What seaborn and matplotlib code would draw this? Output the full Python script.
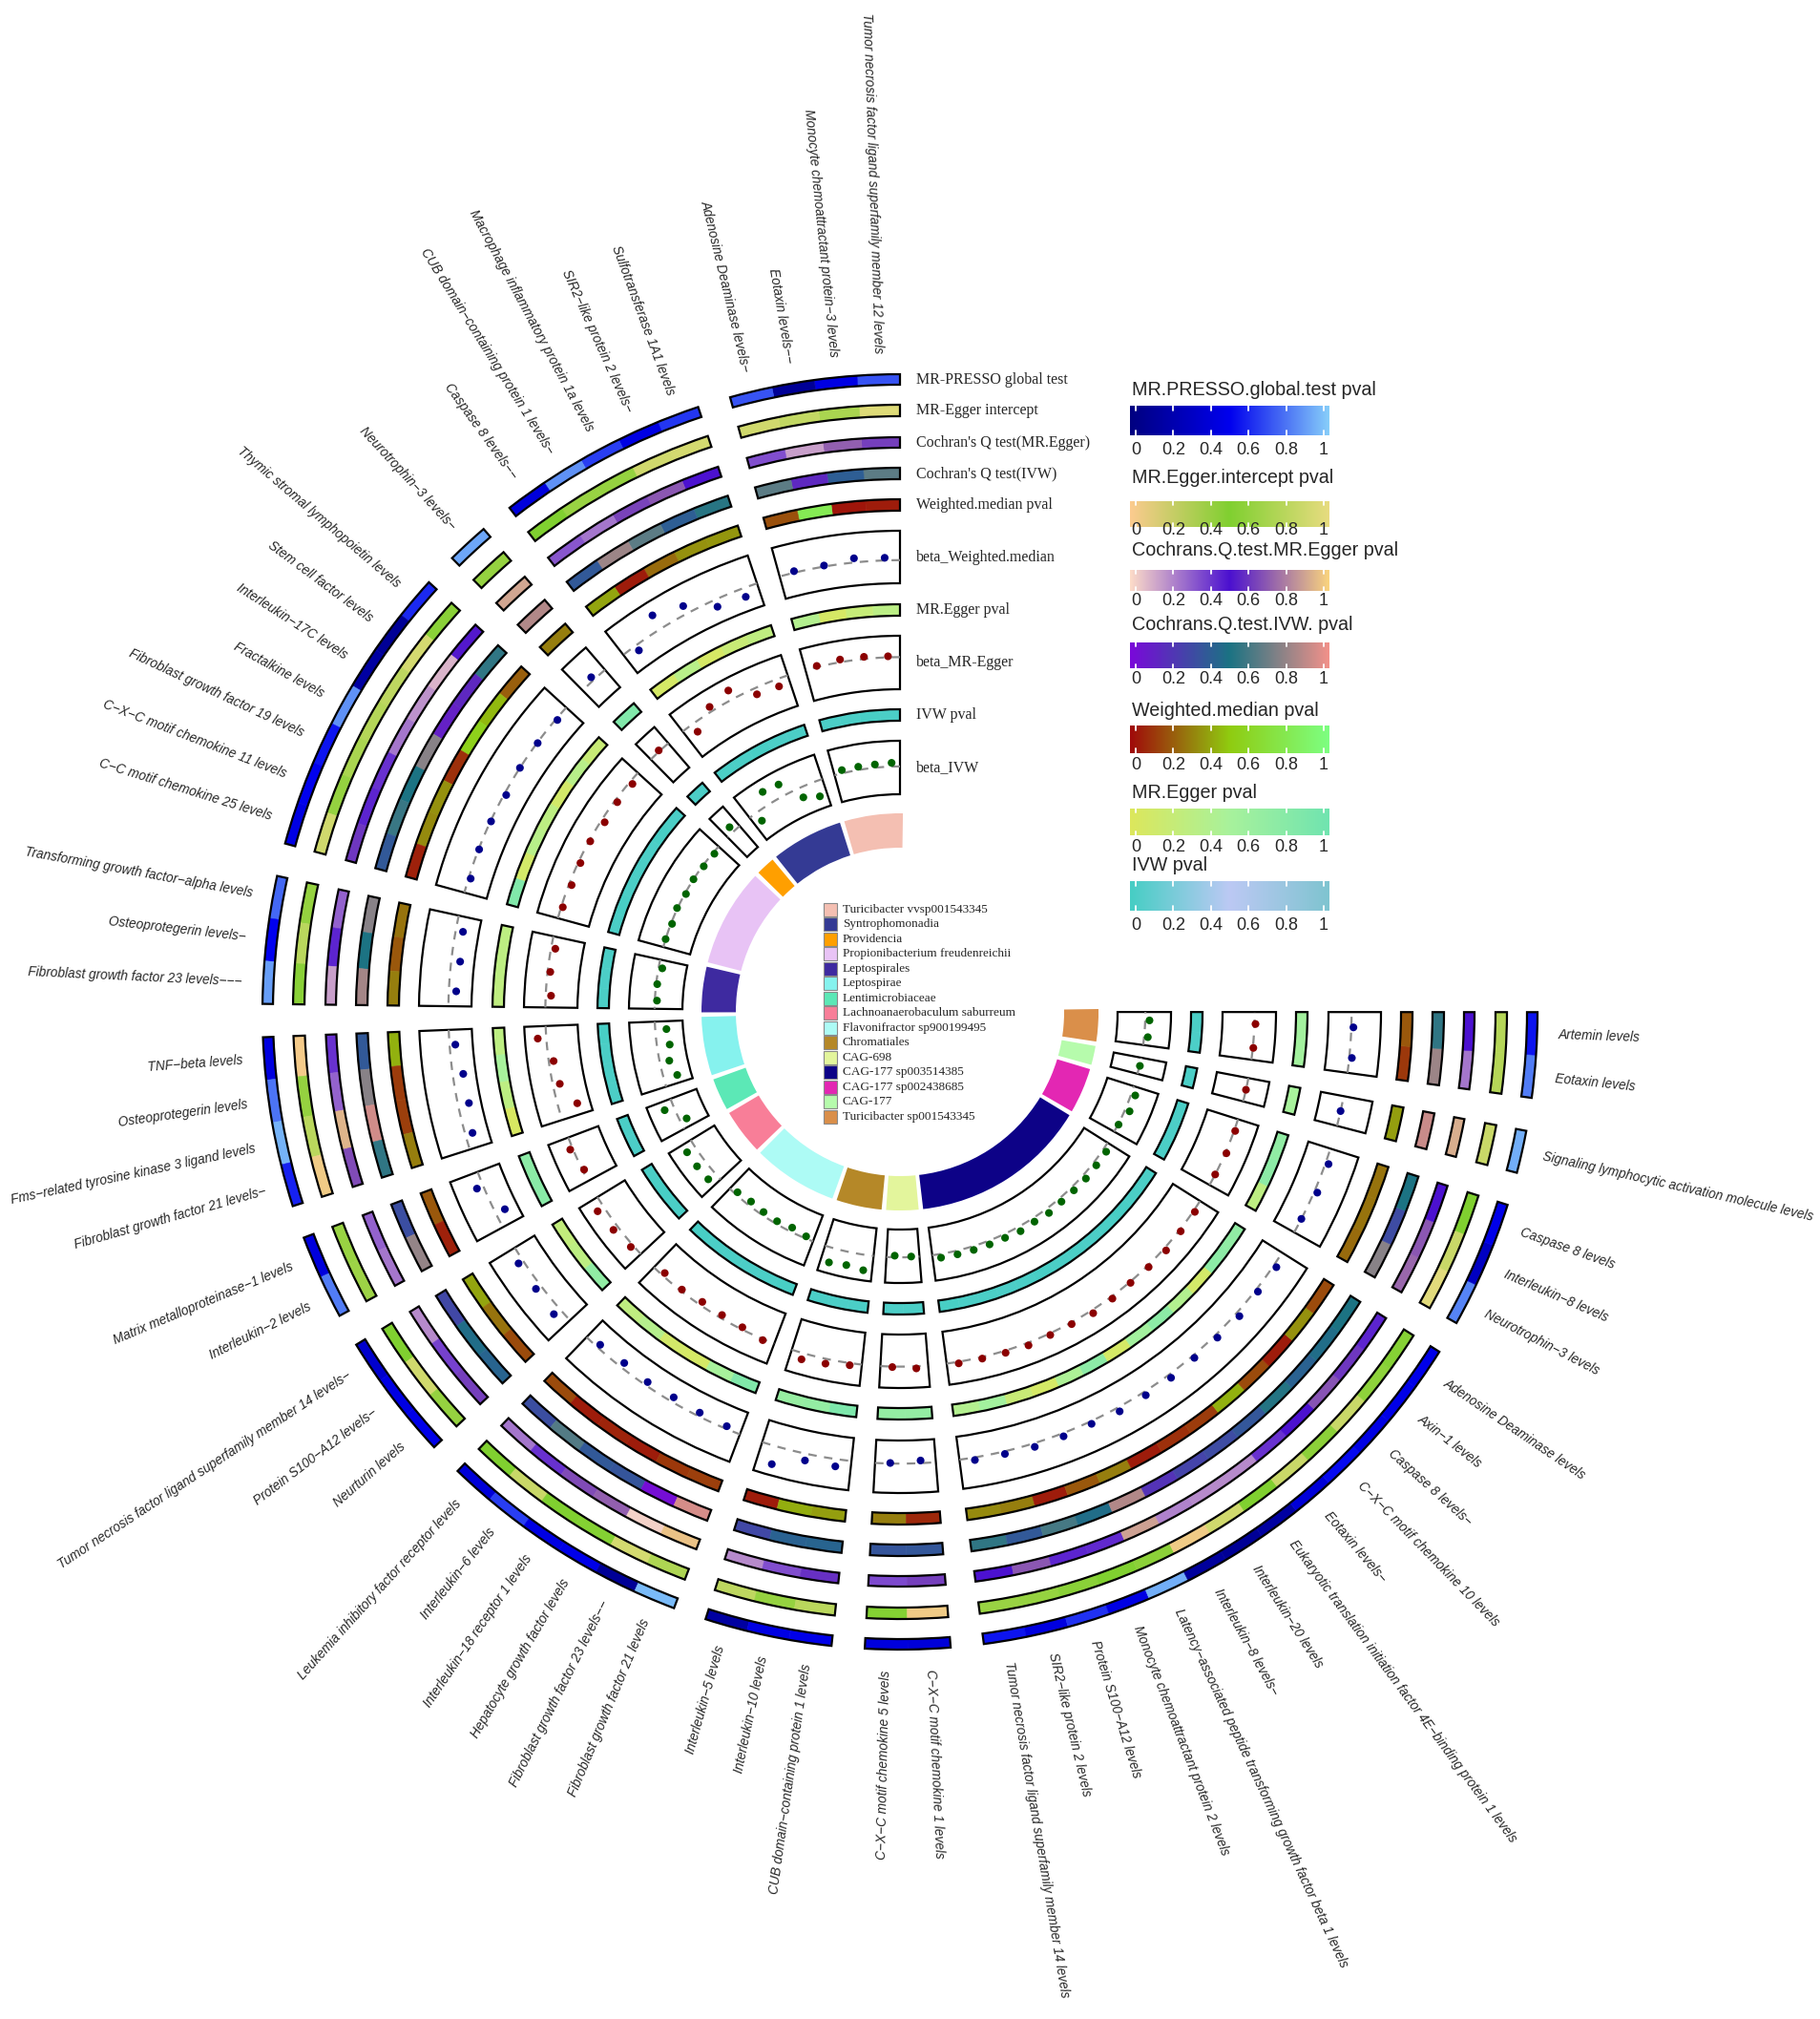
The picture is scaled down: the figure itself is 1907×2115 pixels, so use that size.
import numpy as np
import matplotlib
matplotlib.use("Agg")
import matplotlib.pyplot as plt
import seaborn as sns
from matplotlib.patches import Rectangle

sns.set_style("white")
plt.rcParams["font.family"] = ["Liberation Sans", "DejaVu Sans"]

# ---------------- data ----------------
sectors = ["Turicibacter vvsp001543345", "Syntrophomonadia", "Providencia",
           "Propionibacterium freudenreichii", "Leptospirales", "Leptospirae",
           "Lentimicrobiaceae", "Lachnoanaerobaculum saburreum",
           "Flavonifractor sp900199495", "Chromatiales", "CAG-698",
           "CAG-177 sp003514385", "CAG-177 sp002438685", "CAG-177",
           "Turicibacter sp001543345"]
sector_colors = ["#F4BFB2", "#343A94", "#FF9F00", "#E8C3F5", "#3E2AA0", "#86F2EE",
                 "#5CE8B6", "#F87E98", "#ADFBF5", "#B58828", "#E3F59C", "#0D0287",
                 "#E327B3", "#B6FBAC", "#DA8F4A"]

cytokines = [
    ["Tumor necrosis factor ligand superfamily member 12 levels", "Monocyte chemoattractant protein−3 levels",
     "Eotaxin levels−−", "Adenosine Deaminase levels−"],
    ["Sulfotransferase 1A1 levels", "SIR2−like protein 2 levels−", "Macrophage inflammatory protein 1a levels",
     "CUB domain−containing protein 1 levels−", "Caspase 8 levels−−"],
    ["Neurotrophin−3 levels−"],
    ["Thymic stromal lymphopoietin levels", "Stem cell factor levels", "Interleukin−17C levels",
     "Fractalkine levels", "Fibroblast growth factor 19 levels", "C−X−C motif chemokine 11 levels",
     "C−C motif chemokine 25 levels"],
    ["Transforming growth factor−alpha levels", "Osteoprotegerin levels−", "Fibroblast growth factor 23 levels−−−"],
    ["TNF−beta levels", "Osteoprotegerin levels", "Fms−related tyrosine kinase 3 ligand levels",
     "Fibroblast growth factor 21 levels−"],
    ["Matrix metalloproteinase−1 levels", "Interleukin−2 levels"],
    ["Tumor necrosis factor ligand superfamily member 14 levels−", "Protein S100−A12 levels−", "Neurturin levels"],
    ["Leukemia inhibitory factor receptor levels", "Interleukin−6 levels", "Interleukin−18 receptor 1 levels",
     "Hepatocyte growth factor levels", "Fibroblast growth factor 23 levels−−", "Fibroblast growth factor 21 levels"],
    ["Interleukin−5 levels", "Interleukin−10 levels", "CUB domain−containing protein 1 levels"],
    ["C−X−C motif chemokine 5 levels", "C−X−C motif chemokine 1 levels"],
    ["Tumor necrosis factor ligand superfamily member 14 levels", "SIR2−like protein 2 levels",
     "Protein S100−A12 levels", "Monocyte chemoattractant protein 2 levels",
     "Latency−associated peptide transforming growth factor beta 1 levels", "Interleukin−8 levels−",
     "Interleukin−20 levels", "Eukaryotic translation initiation factor 4E−binding protein 1 levels",
     "Eotaxin levels−", "C−X−C motif chemokine 10 levels", "Caspase 8 levels−", "Axin−1 levels",
     "Adenosine Deaminase levels"],
    ["Neurotrophin−3 levels", "Interleukin−8 levels", "Caspase 8 levels"],
    ["Signaling lymphocytic activation molecule levels"],
    ["Eotaxin levels", "Artemin levels"],
]

beta_ivw = [[0.07, 0.06, 0.06, 0.06], [-0.29, -0.19, 0.23, 0.26, -0.18], [0.11],
            [-0.03, -0.02, 0.00, -0.02, 0.01, -0.02, 0.00], [-0.07, -0.02, -0.04],
            [-0.21, -0.24, -0.18, -0.26], [0.18, -0.13], [0.18, 0.18, 0.17],
            [-0.05, -0.08, -0.06, -0.05, -0.08, -0.04], [0.28, 0.25, 0.29], [-0.03, -0.01],
            [0.07, 0.07, 0.07, 0.07, 0.07, 0.09, 0.07, 0.09, 0.07, 0.07, 0.08, 0.07, 0.07],
            [0.01, 0.09, 0.08], [0.01], [0.07, 0.08]]
beta_egger = [[0.02, 0.04, 0.05, 0.02], [-0.14, -0.12, 0.18, 0.09, -0.17], [0.02],
              [-0.06, -0.05, -0.07, -0.02, -0.04, -0.05, -0.03], [-0.08, -0.05, -0.10],
              [0.16, -0.09, -0.13, -0.36], [0.05, -0.03], [0.14, 0.10, 0.05],
              [-0.06, -0.03, -0.07, -0.06, -0.04, 0.02], [0.12, 0.09, 0.04], [0.01, 0.04],
              [0.03, 0.03, 0.04, 0.05, 0.03, 0.03, 0.06, 0.04, 0.02, 0.03, 0.05, 0.03, 0.03],
              [0.00, 0.02, 0.02], [0.00], [0.01, 0.02]]
beta_wm = [[0.05, 0.08, 0.02, 0.03], [-0.17, -0.14, 0.16, 0.30, -0.11], [0.07],
           [-0.03, -0.01, 0.00, -0.04, -0.01, -0.01, -0.04], [-0.14, -0.17, -0.14],
           [-0.11, -0.20, -0.21, -0.14], [0.13, -0.19], [0.10, 0.11, 0.15],
           [-0.07, -0.10, -0.07, -0.09, -0.07, -0.05], [0.35, 0.13, 0.14], [-0.01, -0.05],
           [0.05, 0.05, 0.07, 0.06, 0.05, 0.08, 0.07, 0.07, 0.05, 0.06, 0.08, 0.05, 0.06],
           [0.00, 0.06, 0.06], [0.00], [0.05, 0.04]]

p_ivw = [[0.02, 0.01, 0.02, 0.03], [0.02, 0.03, 0.01, 0.02, 0.02], [0.03],
         [0.02, 0.01, 0.03, 0.02, 0.02, 0.01, 0.02], [0.02, 0.03, 0.02],
         [0.01, 0.02, 0.02, 0.03], [0.02, 0.03], [0.02, 0.01, 0.02],
         [0.01, 0.02, 0.02, 0.03, 0.02, 0.01], [0.02, 0.03, 0.02], [0.03, 0.02],
         [0.01, 0.02, 0.02, 0.03, 0.02, 0.01, 0.02, 0.02, 0.03, 0.02, 0.01, 0.02, 0.02],
         [0.02, 0.03, 0.02], [0.02], [0.03, 0.02]]
p_egger = [[0.32, 0.22, 0.07, 0.40], [0.28, 0.20, 0.07, 0.35, 0.08], [0.85],
           [0.20, 0.35, 0.10, 0.30, 0.35, 0.10, 0.85], [0.30, 0.30, 0.28],
           [0.30, 0.50, 0.30, 0.05], [0.75, 0.78], [0.25, 0.30, 0.70],
           [0.28, 0.38, 0.10, 0.08, 0.50, 0.85], [0.65, 0.68, 0.88], [0.68, 0.68],
           [0.40, 0.55, 0.20, 0.08, 0.45, 0.75, 0.08, 0.55, 0.75, 0.40, 0.10, 0.75, 0.70],
           [0.30, 0.75, 0.70], [0.50], [0.55, 0.55]]
p_wm = [[0.05, 0.03, 0.80, 0.18], [0.36, 0.35, 0.25, 0.05, 0.40], [0.30],
        [0.22, 0.45, 0.55, 0.10, 0.35, 0.33, 0.06], [0.27, 0.20, 0.30],
        [0.43, 0.13, 0.14, 0.30], [0.20, 0.06], [0.40, 0.27, 0.17],
        [0.17, 0.05, 0.07, 0.05, 0.12, 0.14], [0.05, 0.42, 0.38], [0.30, 0.08],
        [0.33, 0.30, 0.05, 0.20, 0.30, 0.05, 0.10, 0.13, 0.43, 0.17, 0.05, 0.35, 0.17],
        [0.25, 0.27, 0.27], [0.38], [0.12, 0.20]]
p_q_ivw = [[0.65, 0.40, 0.15, 0.65], [0.53, 0.40, 0.65, 0.80, 0.38], [0.85],
           [0.55, 0.15, 0.12, 0.75, 0.50, 0.57, 0.38], [0.75, 0.50, 0.82],
           [0.38, 0.75, 0.92, 0.55], [0.33, 0.78], [0.30, 0.47, 0.43],
           [0.33, 0.63, 0.38, 0.36, 0.03, 0.93], [0.30, 0.42, 0.43], [0.36, 0.37],
           [0.55, 0.38, 0.60, 0.47, 0.85, 0.20, 0.28, 0.32, 0.37, 0.52, 0.42, 0.47, 0.50],
           [0.75, 0.32, 0.50], [0.90], [0.80, 0.55]]
p_q_egger = [[0.62, 0.70, 0.15, 0.35], [0.50, 0.68, 0.63, 0.25, 0.33], [0.88],
             [0.52, 0.10, 0.18, 0.25, 0.42, 0.45, 0.60], [0.30, 0.45, 0.15],
             [0.42, 0.30, 0.92, 0.65], [0.30, 0.25], [0.20, 0.38, 0.62],
             [0.25, 0.42, 0.65, 0.70, 0.03, 0.95], [0.20, 0.35, 0.58], [0.36, 0.62],
             [0.50, 0.68, 0.45, 0.44, 0.87, 0.22, 0.20, 0.20, 0.42, 0.50, 0.67, 0.60, 0.45],
             [0.72, 0.68, 0.50], [0.90], [0.25, 0.50]]
p_intercept = [[0.95, 0.70, 0.82, 0.88], [0.90, 0.88, 0.60, 0.62, 0.50], [0.60],
               [0.55, 0.90, 0.80, 0.75, 0.70, 0.60, 0.88], [0.60, 0.78, 0.55],
               [0.03, 0.60, 0.78, 0.05], [0.62, 0.64], [0.50, 0.88, 0.60],
               [0.50, 0.85, 0.50, 0.52, 0.90, 0.72], [0.80, 0.60, 0.78], [0.52, 0.05],
               [0.62, 0.60, 0.55, 0.50, 0.45, 0.05, 0.88, 0.50, 0.85, 0.45, 0.85, 0.57, 0.53],
               [0.97, 0.85, 0.50], [0.85], [0.75, 0.75]]
p_presso = [[0.70, 0.45, 0.10, 0.70], [0.63, 0.45, 0.65, 0.85, 0.42], [0.90],
            [0.60, 0.10, 0.15, 0.85, 0.55, 0.50, 0.45], [0.75, 0.50, 0.88],
            [0.43, 0.78, 0.93, 0.58], [0.42, 0.80], [0.35, 0.45, 0.47],
            [0.40, 0.65, 0.45, 0.47, 0.10, 0.95], [0.15, 0.45, 0.47], [0.42, 0.40],
            [0.55, 0.43, 0.62, 0.45, 0.92, 0.13, 0.10, 0.15, 0.40, 0.52, 0.45, 0.47, 0.48],
            [0.82, 0.30, 0.48], [0.92], [0.80, 0.55]]

# ---------------- colour scales ----------------
cm_presso = sns.blend_palette(["#000080", "#0000EE", "#87CEFA"], as_cmap=True)
cm_intercept = sns.blend_palette(["#FCCB8F", "#80D030", "#E8DC80"], as_cmap=True)
cm_q_egger = sns.blend_palette(["#FDDCC8", "#4B10D0", "#FAD47E"], as_cmap=True)
cm_q_ivw = sns.blend_palette(["#7A08DA", "#1B7383", "#F2918A"], as_cmap=True)
cm_wm = sns.blend_palette(["#A00A0A", "#90CC10", "#7DFF82"], as_cmap=True)
cm_egger = sns.blend_palette(["#DDE75C", "#A8F29C", "#70E4B0"], as_cmap=True)
cm_ivw = sns.blend_palette(["#46CEC4", "#BCC9F4", "#7FC4D0"], as_cmap=True)

# ---------------- layout ----------------
W, H = 1908, 2115
CX, CY, RMAX = 943, 1060, 720
CELL, GAP = 3.864, 3.0


def fx(x):
    return x / W


def fy(y):
    return 1 - y / H


fig = plt.figure(figsize=(W / 100, H / 100), dpi=100)
ax = fig.add_axes([fx(CX - RMAX), fy(CY + RMAX), 2 * RMAX / W, 2 * RMAX / H], projection="polar")
ax.set_theta_zero_location("E")
ax.axis("off")

starts = []
a = 90.0
for labs in cytokines:
    starts.append(a)
    a += len(labs) * CELL + GAP


def centers(s):
    return starts[s] + CELL * (np.arange(len(cytokines[s])) + 0.5)


def sector_box(s, r0, r1, face="none"):
    n = len(cytokines[s])
    mid = starts[s] + n * CELL / 2
    ax.bar(np.deg2rad(mid), r1 - r0, width=np.deg2rad(n * CELL), bottom=r0,
           facecolor=face, edgecolor="black", linewidth=1.6, zorder=3 if face == "none" else 1)


def heat_track(vals, r0, r1, cmap):
    for s, v in enumerate(vals):
        cols = cmap(np.array(v))
        ax.bar(np.deg2rad(centers(s)), r1 - r0, width=np.deg2rad(CELL), bottom=r0,
               color=cols, edgecolor=cols, linewidth=0.4, zorder=2)
        sector_box(s, r0, r1)


def beta_track(vals, r0, r1, ylim, color):
    y0, y1 = ylim
    rz = r0 + (0 - y0) / (y1 - y0) * (r1 - r0)
    for s, v in enumerate(vals):
        sector_box(s, r0, r1, face="white")
        n = len(cytokines[s])
        th = np.linspace(starts[s], starts[s] + n * CELL, 60)
        ax.plot(np.deg2rad(th), np.full(th.size, rz), color="#8C8C8C", lw=1.6,
                ls=(0, (4, 3.5)), zorder=2)
        rr = r0 + (np.array(v) - y0) / (y1 - y0) * (r1 - r0)
        sns.scatterplot(x=np.deg2rad(centers(s)), y=rr, ax=ax, color=color, s=34,
                        edgecolor="none", legend=False, zorder=4)


# inner ring with sector colours
for s, col in enumerate(sector_colors):
    n = len(cytokines[s])
    mid = starts[s] + n * CELL / 2
    ax.bar(np.deg2rad(mid), 36, width=np.deg2rad(n * CELL + 1.7), bottom=172,
           color=col, edgecolor="none")

beta_track(beta_ivw, 228, 284, (-0.52, 0.48), "#006400")
heat_track(p_ivw, 305, 317, cm_ivw)
beta_track(beta_egger, 338, 394, (-0.60, 0.40), "#8B0000")
heat_track(p_egger, 415, 427, cm_egger)
beta_track(beta_wm, 449, 504, (-0.44, 0.56), "#00008B")
heat_track(p_wm, 525, 537, cm_wm)
heat_track(p_q_ivw, 558, 570, cm_q_ivw)
heat_track(p_q_egger, 591, 602, cm_q_egger)
heat_track(p_intercept, 624, 636, cm_intercept)
heat_track(p_presso, 657, 668, cm_presso)

# outer cytokine labels
for s, labs in enumerate(cytokines):
    for th, lab in zip(centers(s), labs):
        if 90 < th < 270:
            rot, ha = th - 180, "right"
        else:
            rot, ha = th, "left"
        ax.text(np.deg2rad(th), 690, lab, rotation=rot, rotation_mode="anchor",
                ha=ha, va="center", fontsize=9.8, style="italic", family="Liberation Sans")

ax.set_ylim(0, RMAX)

# track names
track_names = [("MR-PRESSO global test", 398), ("MR-Egger intercept", 430),
               ("Cochran's Q test(MR.Egger)", 464), ("Cochran's Q test(IVW)", 496),
               ("Weighted.median pval", 529), ("beta_Weighted.median", 584),
               ("MR.Egger pval", 639), ("beta_MR-Egger", 694), ("IVW pval", 749),
               ("beta_IVW", 804)]
for name, y in track_names:
    fig.text(fx(960), fy(y), name, family="Liberation Serif", fontsize=11.5,
             ha="left", va="center")

# colour legends
cbars = [("MR.PRESSO.global.test pval", cm_presso, 409, 425, 456, 471),
         ("MR.Egger.intercept pval", cm_intercept, 500, 525, 552, 555),
         ("Cochrans.Q.test.MR.Egger pval", cm_q_egger, 576, 597, 619, 630),
         ("Cochrans.Q.test.IVW. pval", cm_q_ivw, 655, 673, 700, 712),
         ("Weighted.median pval", cm_wm, 744, 760, 789, 802),
         ("MR.Egger pval", cm_egger, 830, 847, 875, 888),
         ("IVW pval", cm_ivw, 906, 923, 954, 969)]
ticks = [0, 0.2, 0.4, 0.6, 0.8, 1]
for title, cmap, ty, y0, y1, ly in cbars:
    cax = fig.add_axes([fx(1184), fy(y1), 209 / W, (y1 - y0) / H])
    cax.imshow(np.linspace(0, 1, 256)[None, :], cmap=cmap, aspect="auto",
               extent=(-0.03, 1.03, 0, 1))
    for t in ticks:
        cax.plot([t, t], [0, 0.16], color="white", lw=1.3)
        cax.plot([t, t], [0.84, 1], color="white", lw=1.3)
    cax.set_xlim(-0.03, 1.03)
    cax.set_ylim(0, 1)
    cax.axis("off")
    fig.text(fx(1186), fy(ty), title, fontsize=14.2, ha="left", va="center")
    for t in ticks:
        xp = 1184 + (t + 0.03) / 1.06 * 209
        fig.text(fx(xp), fy(ly), f"{t:g}", fontsize=13, ha="center", va="center")

# sector legend
for i, (name, col) in enumerate(zip(sectors, sector_colors)):
    yc = 953 + i * 15.47
    fig.add_artist(Rectangle((fx(863), fy(yc + 7)), 14 / W, 14 / H, transform=fig.transFigure,
                             facecolor=col, edgecolor="#8A8A8A", linewidth=0.8))
    fig.text(fx(883), fy(yc), name, family="Liberation Serif", fontsize=9.5,
             ha="left", va="center")

fig.savefig("out.png", dpi=100)
